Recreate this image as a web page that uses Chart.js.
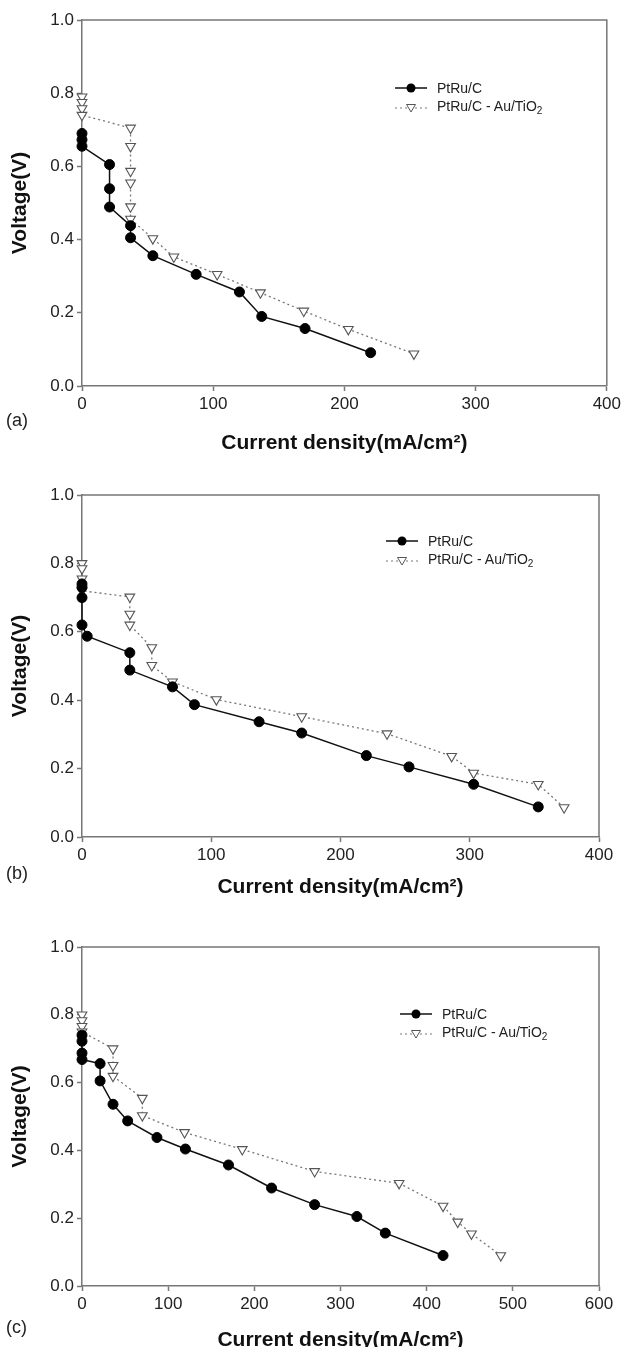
<!DOCTYPE html>
<html>
<head>
<meta charset="utf-8">
<script src="https://cdn.jsdelivr.net/npm/chart.js@4.4.1/dist/chart.umd.min.js"></script>
<style>
  html, body { margin: 0; padding: 0; background: #fff; }
  body { width: 624px; height: 1347px; position: relative; overflow: hidden; font-family: 'Liberation Sans', Arial, sans-serif; }
  .panel { position: absolute; left: 0; width: 624px; }
  .tag { position: absolute; left: 6px; font-size: 18px; color: #222; line-height: 20px; }
  .legend { position: absolute; font-size: 14px; color: #222; line-height: 20px; }
  .legend div { display: flex; align-items: center; height: 20px; }
  .legend svg { margin-right: 10px; }
  .legend sub { font-size: 10px; vertical-align: -3px; }
</style>
</head>
<body>

<div class="panel" style="top:0px;height:456px"><canvas id="chartA" width="624" height="456"></canvas></div>
<div class="panel" style="top:470px;height:430px"><canvas id="chartB" width="624" height="430"></canvas></div>
<div class="panel" style="top:920px;height:433px"><canvas id="chartC" width="624" height="433"></canvas></div>

<div class="tag" style="top:410px">(a)</div>
<div class="tag" style="top:863px">(b)</div>
<div class="tag" style="top:1317px">(c)</div>

<div class="legend" style="left:395px;top:78px" id="legA"></div>
<div class="legend" style="left:386px;top:531px" id="legB"></div>
<div class="legend" style="left:400px;top:1004px" id="legC"></div>

<script>
// series names
const seriesNames = ['PtRu/C', 'PtRu/C - Au/TiO2'];
const yTicks = [0, 0.2, 0.4, 0.6, 0.8, 1.0];

// (a)
const aPtRuX = [0, 0, 0, 21, 21, 21, 37, 37, 54, 87, 120, 137, 170, 220];
const aPtRuY = [0.69, 0.673, 0.655, 0.605, 0.539, 0.489, 0.438, 0.405, 0.356, 0.305, 0.257, 0.19, 0.157, 0.091];
const aAuX = [0, 0, 0, 0, 37, 37, 37, 37, 37, 37, 54, 70, 103, 136, 169, 203, 253];
const aAuY = [0.79, 0.775, 0.758, 0.74, 0.705, 0.655, 0.587, 0.555, 0.49, 0.456, 0.403, 0.353, 0.305, 0.255, 0.205, 0.155, 0.088];

// (b)
const bPtRuX = [0, 0, 0, 0, 4, 37, 37, 70, 87, 137, 170, 220, 253, 303, 353];
const bPtRuY = [0.74, 0.73, 0.70, 0.62, 0.587, 0.539, 0.488, 0.439, 0.387, 0.337, 0.304, 0.238, 0.205, 0.154, 0.088];
const bAuX = [0, 0, 0, 0, 37, 37, 37, 54, 54, 70, 104, 170, 236, 286, 303, 353, 373];
const bAuY = [0.80, 0.785, 0.755, 0.72, 0.702, 0.652, 0.62, 0.554, 0.502, 0.454, 0.402, 0.352, 0.302, 0.236, 0.187, 0.154, 0.086];

// (c)
const cPtRuX = [0, 0, 0, 0, 21, 21, 36, 53, 87, 120, 170, 220, 270, 319, 352, 419];
const cPtRuY = [0.74, 0.722, 0.687, 0.668, 0.656, 0.605, 0.536, 0.487, 0.438, 0.404, 0.357, 0.289, 0.24, 0.205, 0.156, 0.09];
const cAuX = [0, 0, 0, 0, 36, 36, 36, 70, 70, 119, 186, 270, 368, 419, 436, 452, 486];
const cAuY = [0.80, 0.783, 0.766, 0.75, 0.70, 0.651, 0.619, 0.554, 0.503, 0.453, 0.403, 0.338, 0.303, 0.236, 0.189, 0.154, 0.09];

const FONT = "'Liberation Sans', Arial, sans-serif";
const AXIS = '#777';

const pairs = (xs, ys) => xs.map((x, i) => ({ x: x, y: ys[i] }));

// top + right border of the plot box
const framePlugin = {
  id: 'frame',
  beforeDatasetsDraw(chart) {
    const { ctx, chartArea: a } = chart;
    ctx.save();
    ctx.strokeStyle = AXIS;
    ctx.lineWidth = 1.5;
    ctx.beginPath();
    ctx.moveTo(a.left, a.top);
    ctx.lineTo(a.right, a.top);
    ctx.lineTo(a.right, a.bottom);
    ctx.stroke();
    ctx.restore();
  }
};

function makeChart(id, ptruX, ptruY, auX, auY, xMax, padTop, padRight, xAxisHeight) {
  const ctx = document.getElementById(id).getContext('2d');
  return new Chart(ctx, {
    type: 'scatter',
    data: {
      datasets: [
        {
          label: seriesNames[0],
          data: pairs(ptruX, ptruY),
          showLine: true,
          borderColor: '#111',
          borderWidth: 1.5,
          pointStyle: 'circle',
          pointRadius: 5,
          pointBackgroundColor: '#000',
          pointBorderColor: '#000',
          pointBorderWidth: 1,
          clip: false
        },
        {
          label: seriesNames[1],
          data: pairs(auX, auY),
          showLine: true,
          borderColor: '#777',
          borderWidth: 1.3,
          borderDash: [2, 3],
          pointStyle: 'triangle',
          rotation: 180,
          pointRadius: 5.6,
          pointBackgroundColor: '#fff',
          pointBorderColor: '#555',
          pointBorderWidth: 1.1,
          clip: false
        }
      ]
    },
    options: {
      responsive: false,
      animation: false,
      devicePixelRatio: 1,
      layout: { padding: { top: padTop, right: padRight, left: 0, bottom: 0 } },
      plugins: { legend: { display: false }, tooltip: { enabled: false } },
      scales: {
        x: {
          type: 'linear',
          min: 0,
          max: xMax,
          afterFit: s => { s.height = xAxisHeight; },
          ticks: { stepSize: 100, color: '#222', font: { family: FONT, size: 17 }, padding: 3, maxRotation: 0 },
          grid: { display: true, drawOnChartArea: false, drawTicks: true, tickLength: 5, tickColor: AXIS, tickWidth: 1.5 },
          border: { display: true, color: AXIS, width: 1.5 },
          title: { display: true, text: 'Current density(mA/cm²)', color: '#111', font: { family: FONT, size: 21, weight: 'bold' }, padding: 0 }
        },
        y: {
          type: 'linear',
          min: 0,
          max: 1,
          afterFit: s => { s.width = 82; },
          afterBuildTicks: s => { s.ticks = yTicks.map(v => ({ value: v })); },
          ticks: { color: '#222', font: { family: FONT, size: 17 }, padding: 3, callback: v => v.toFixed(1) },
          grid: { display: true, drawOnChartArea: false, drawTicks: true, tickLength: 5, tickColor: AXIS, tickWidth: 1.5 },
          border: { display: true, color: AXIS, width: 1.5 },
          title: { display: true, text: 'Voltage(V)', color: '#111', font: { family: FONT, size: 21, weight: 'bold' }, padding: { top: 8 } }
        }
      }
    },
    plugins: [framePlugin]
  });
}

makeChart('chartA', aPtRuX, aPtRuY, aAuX, aAuY, 400, 20, 15, 70);
makeChart('chartB', bPtRuX, bPtRuY, bAuX, bAuY, 400, 25, 25, 63);
makeChart('chartC', cPtRuX, cPtRuY, cAuX, cAuY, 600, 27, 25, 67);

// legend rows (html so the subscript stays real text)
const circleIcon = '<svg width="32" height="12"><line x1="0" y1="6" x2="32" y2="6" stroke="#111" stroke-width="1.5"/><circle cx="16" cy="6" r="4.5" fill="#000"/></svg>';
const triIcon = '<svg width="32" height="12"><line x1="0" y1="6" x2="32" y2="6" stroke="#777" stroke-width="1.2" stroke-dasharray="2,3"/><polygon points="11.5,2.5 20.5,2.5 16,10" fill="#fff" stroke="#555" stroke-width="1"/></svg>';
const legendHtml =
  '<div>' + circleIcon + '<span>' + seriesNames[0] + '</span></div>' +
  '<div>' + triIcon + '<span>PtRu/C - Au/TiO<sub>2</sub></span></div>';
['legA', 'legB', 'legC'].forEach(id => { document.getElementById(id).innerHTML = legendHtml; });
</script>
</body>
</html>
